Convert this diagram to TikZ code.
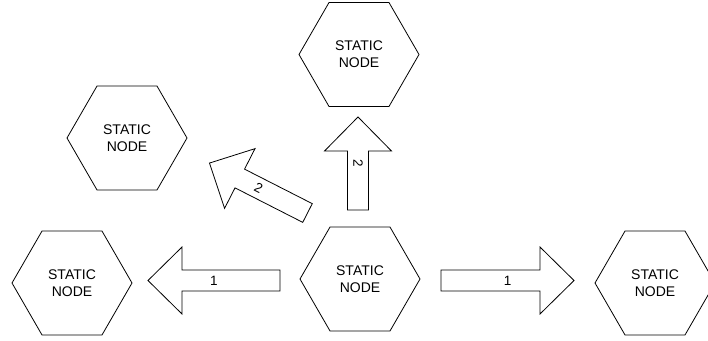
\documentclass[tikz,border=0pt]{standalone}
\usepackage{fontspec}
\setmainfont{Liberation Sans}
\usetikzlibrary{shapes.geometric}
\tikzset{
  hexnode/.style={draw, line width=0.8pt, regular polygon, regular polygon sides=6,
    minimum size=120pt, inner sep=0pt, align=center,
    font=\fontsize{14}{17}\selectfont},
  blockarrow/.style={draw, line width=0.8pt, line join=miter},
  arrowlabel/.style={font=\fontsize{13.5}{16}\selectfont, inner sep=0pt},
}
% #1 name, #2 tail point, #3 angle, #4 length, #5 label rotation, #6 label
\newcommand\blockarr[6]{%
  \begin{scope}[shift={#2}, rotate=#3]
    \draw[blockarrow] (0,10.5) -- ({#4-34},10.5) -- ({#4-34},33.5) -- (#4,0)
      -- ({#4-34},-33.5) -- ({#4-34},-10.5) -- (0,-10.5) -- cycle;
    \node[arrowlabel, rotate=#5] (#1) at ({#4/2},0) {#6};
  \end{scope}}
\begin{document}
\begin{tikzpicture}[x=1pt, y=-1pt]
  \useasboundingbox (0,0) rectangle (708,340);
  \node[hexnode] (top)    at (359,54.5)  {STATIC\\NODE};
  \node[hexnode] (ul)     at (127,138)   {STATIC\\NODE};
  \node[hexnode] (center) at (360,279)   {STATIC\\NODE};
  \node[hexnode] (left)   at (72,283)    {STATIC\\NODE};
  \node[hexnode] (right)  at (655,283)   {STATIC\\NODE};
  \blockarr{la}{(280,280.5)}{180}{132}{0}{1}
  \blockarr{ra}{(441,280.5)}{0}{133}{0}{1}
  \blockarr{va}{(358,210)}{90}{93}{-90}{2}
  \blockarr{da}{(307.5,213)}{153}{110}{-27}{2}
\end{tikzpicture}
\end{document}
